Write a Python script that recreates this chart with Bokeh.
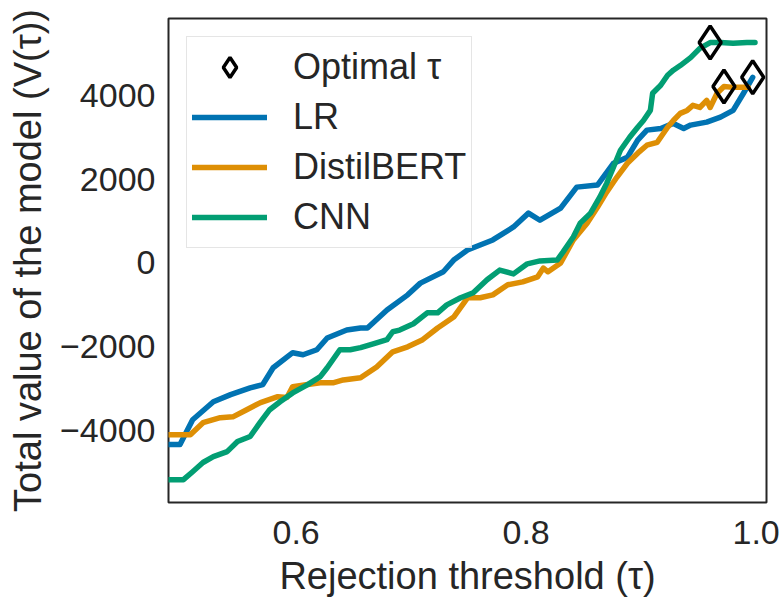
from bokeh.plotting import figure
from bokeh.models import Range1d, FixedTicker, Legend, LegendItem
from bokeh.embed import file_html
from bokeh.resources import INLINE

# ---------------- data ----------------
lr_x = [0.489, 0.499, 0.510, 0.528, 0.543, 0.560, 0.571, 0.580, 0.597, 0.606,
        0.618, 0.627, 0.644, 0.656, 0.662, 0.679, 0.697, 0.708, 0.728, 0.737,
        0.749, 0.760, 0.771, 0.789, 0.802, 0.812, 0.830, 0.844, 0.862, 0.876,
        0.888, 0.897, 0.905, 0.917, 0.928, 0.937, 0.943, 0.957, 0.969, 0.980,
        0.989, 0.997]
lr_y = [-4330, -4330, -3740, -3310, -3140, -2980, -2900, -2500, -2140, -2190,
        -2070, -1790, -1600, -1550, -1550, -1120, -760, -480, -210, 70,
        310, 430, 550, 860, 1190, 1020, 1310, 1810, 1860, 2380,
        2520, 2930, 3170, 3210, 3330, 3210, 3290, 3360, 3480, 3640,
        4050, 4430]

db_x = [0.489, 0.508, 0.519, 0.534, 0.545, 0.557, 0.569, 0.584, 0.592, 0.597,
        0.610, 0.621, 0.632, 0.641, 0.656, 0.670, 0.684, 0.697, 0.710, 0.723,
        0.737, 0.749, 0.760, 0.771, 0.784, 0.797, 0.810, 0.815, 0.819, 0.830,
        0.841, 0.853, 0.862, 0.870, 0.879, 0.888, 0.897, 0.905, 0.914, 0.923,
        0.928, 0.934, 0.940, 0.945, 0.951, 0.957, 0.960, 0.966, 0.972, 0.980,
        0.993]
db_y = [-4100, -4100, -3810, -3690, -3670, -3500, -3330, -3190, -3210, -2950,
        -2900, -2860, -2860, -2790, -2740, -2480, -2120, -2000, -1830, -1550,
        -1290, -830, -830, -760, -520, -450, -330, -120, -210, 0,
        550, 950, 1330, 1690, 2050, 2380, 2620, 2810, 2880, 3240,
        3400, 3570, 3640, 3760, 3710, 3880, 3710, 4050, 4210, 4190,
        4190]

cnn_x = [0.489, 0.502, 0.510, 0.519, 0.528, 0.540, 0.549, 0.560, 0.569, 0.577,
         0.586, 0.597, 0.610, 0.621, 0.627, 0.638, 0.647, 0.656, 0.667, 0.679,
         0.684, 0.690, 0.702, 0.714, 0.723, 0.731, 0.743, 0.754, 0.766, 0.777,
         0.789, 0.801, 0.812, 0.827, 0.832, 0.841, 0.847, 0.856, 0.864, 0.870,
         0.876, 0.882, 0.890, 0.897, 0.902, 0.908, 0.910, 0.917, 0.923, 0.928,
         0.934, 0.943, 0.951, 0.960, 0.969, 0.980, 0.992, 0.999]
cnn_y = [-5170, -5170, -4980, -4760, -4620, -4500, -4260, -4140, -3790, -3500,
         -3310, -3100, -2900, -2710, -2500, -2070, -2070, -2020, -1930, -1830,
         -1640, -1600, -1450, -1190, -1190, -1000, -830, -710, -400, -170,
         -260, -20, 50, 70, 260, 620, 950, 1190, 1570, 1900,
         2290, 2690, 3000, 3240, 3400, 3640, 4050, 4240, 4480, 4600,
         4710, 4900, 5120, 5260, 5260, 5240, 5260, 5260]

opt_x = [0.997, 0.972, 0.960]      # LR, DistilBERT, CNN
opt_y = [4430, 4210, 5260]

series_names = ["LR", "DistilBERT", "CNN"]
series_colors = ["#0173B2", "#DE8F05", "#029E73"]

x_ticks = [0.6, 0.8, 1.0]
x_tick_labels = ["0.6", "0.8", "1.0"]
y_ticks = [-4000, -2000, 0, 2000, 4000]
y_tick_labels = ["\u22124000", "\u22122000", "0", "2000", "4000"]

x_label = "Rejection threshold (\u03c4)"
y_label = "Total value of the model (V(\u03c4))"
opt_label = "Optimal \u03c4"

# ---------------- figure ----------------
FONT = "Liberation Sans"
TXT = "#262626"

p = figure(width=783, height=599, output_backend="svg", toolbar_location=None,
           x_range=Range1d(0.489, 1.009), y_range=Range1d(-5714, 5833),
           min_border_left=168, min_border_right=17,
           min_border_top=18, min_border_bottom=96)

p.background_fill_color = "white"
p.border_fill_color = "white"
p.outline_line_color = TXT
p.outline_line_width = 2
p.xgrid.visible = False
p.ygrid.visible = False

for ax in (p.xaxis[0], p.yaxis[0]):
    ax.axis_line_color = None
    ax.major_tick_line_color = None
    ax.minor_tick_line_color = None
    ax.major_label_text_font = FONT
    ax.major_label_text_font_size = "34px"
    ax.major_label_text_color = TXT
    ax.axis_label_text_font = FONT
    ax.axis_label_text_font_size = "38px"
    ax.axis_label_text_font_style = "normal"
    ax.axis_label_text_color = TXT

p.xaxis[0].ticker = FixedTicker(ticks=x_ticks)
p.xaxis[0].major_label_overrides = dict(zip(x_ticks, x_tick_labels))
p.xaxis[0].axis_label = x_label
p.xaxis[0].major_label_standoff = 12
p.xaxis[0].axis_label_standoff = 8

p.yaxis[0].ticker = FixedTicker(ticks=y_ticks)
p.yaxis[0].major_label_overrides = dict(zip(y_ticks, y_tick_labels))
p.yaxis[0].axis_label = y_label
p.yaxis[0].major_label_standoff = 7
p.yaxis[0].axis_label_standoff = 8

renderers = []
for xs, ys, c in zip([lr_x, db_x, cnn_x], [lr_y, db_y, cnn_y], series_colors):
    r = p.line(xs, ys, line_color=c, line_width=5.5, line_join="round", line_cap="round")
    renderers.append(r)

r_opt = p.scatter(opt_x, opt_y, marker="diamond", size=33, fill_color=None,
                  line_color="black", line_width=3.5)

items = [LegendItem(label=opt_label, renderers=[r_opt])]
for name, r in zip(series_names, renderers):
    items.append(LegendItem(label=name, renderers=[r]))

legend = Legend(items=items, location="top_left", margin=18, padding=5, spacing=0,
                glyph_width=75, glyph_height=50, label_height=50, label_standoff=26,
                label_text_font=FONT, label_text_font_size="36px",
                label_text_color=TXT, border_line_color="#cccccc",
                border_line_width=1, background_fill_color="white",
                background_fill_alpha=0.8)
p.add_layout(legend)

open("out.html", "w").write(file_html(p, INLINE))
